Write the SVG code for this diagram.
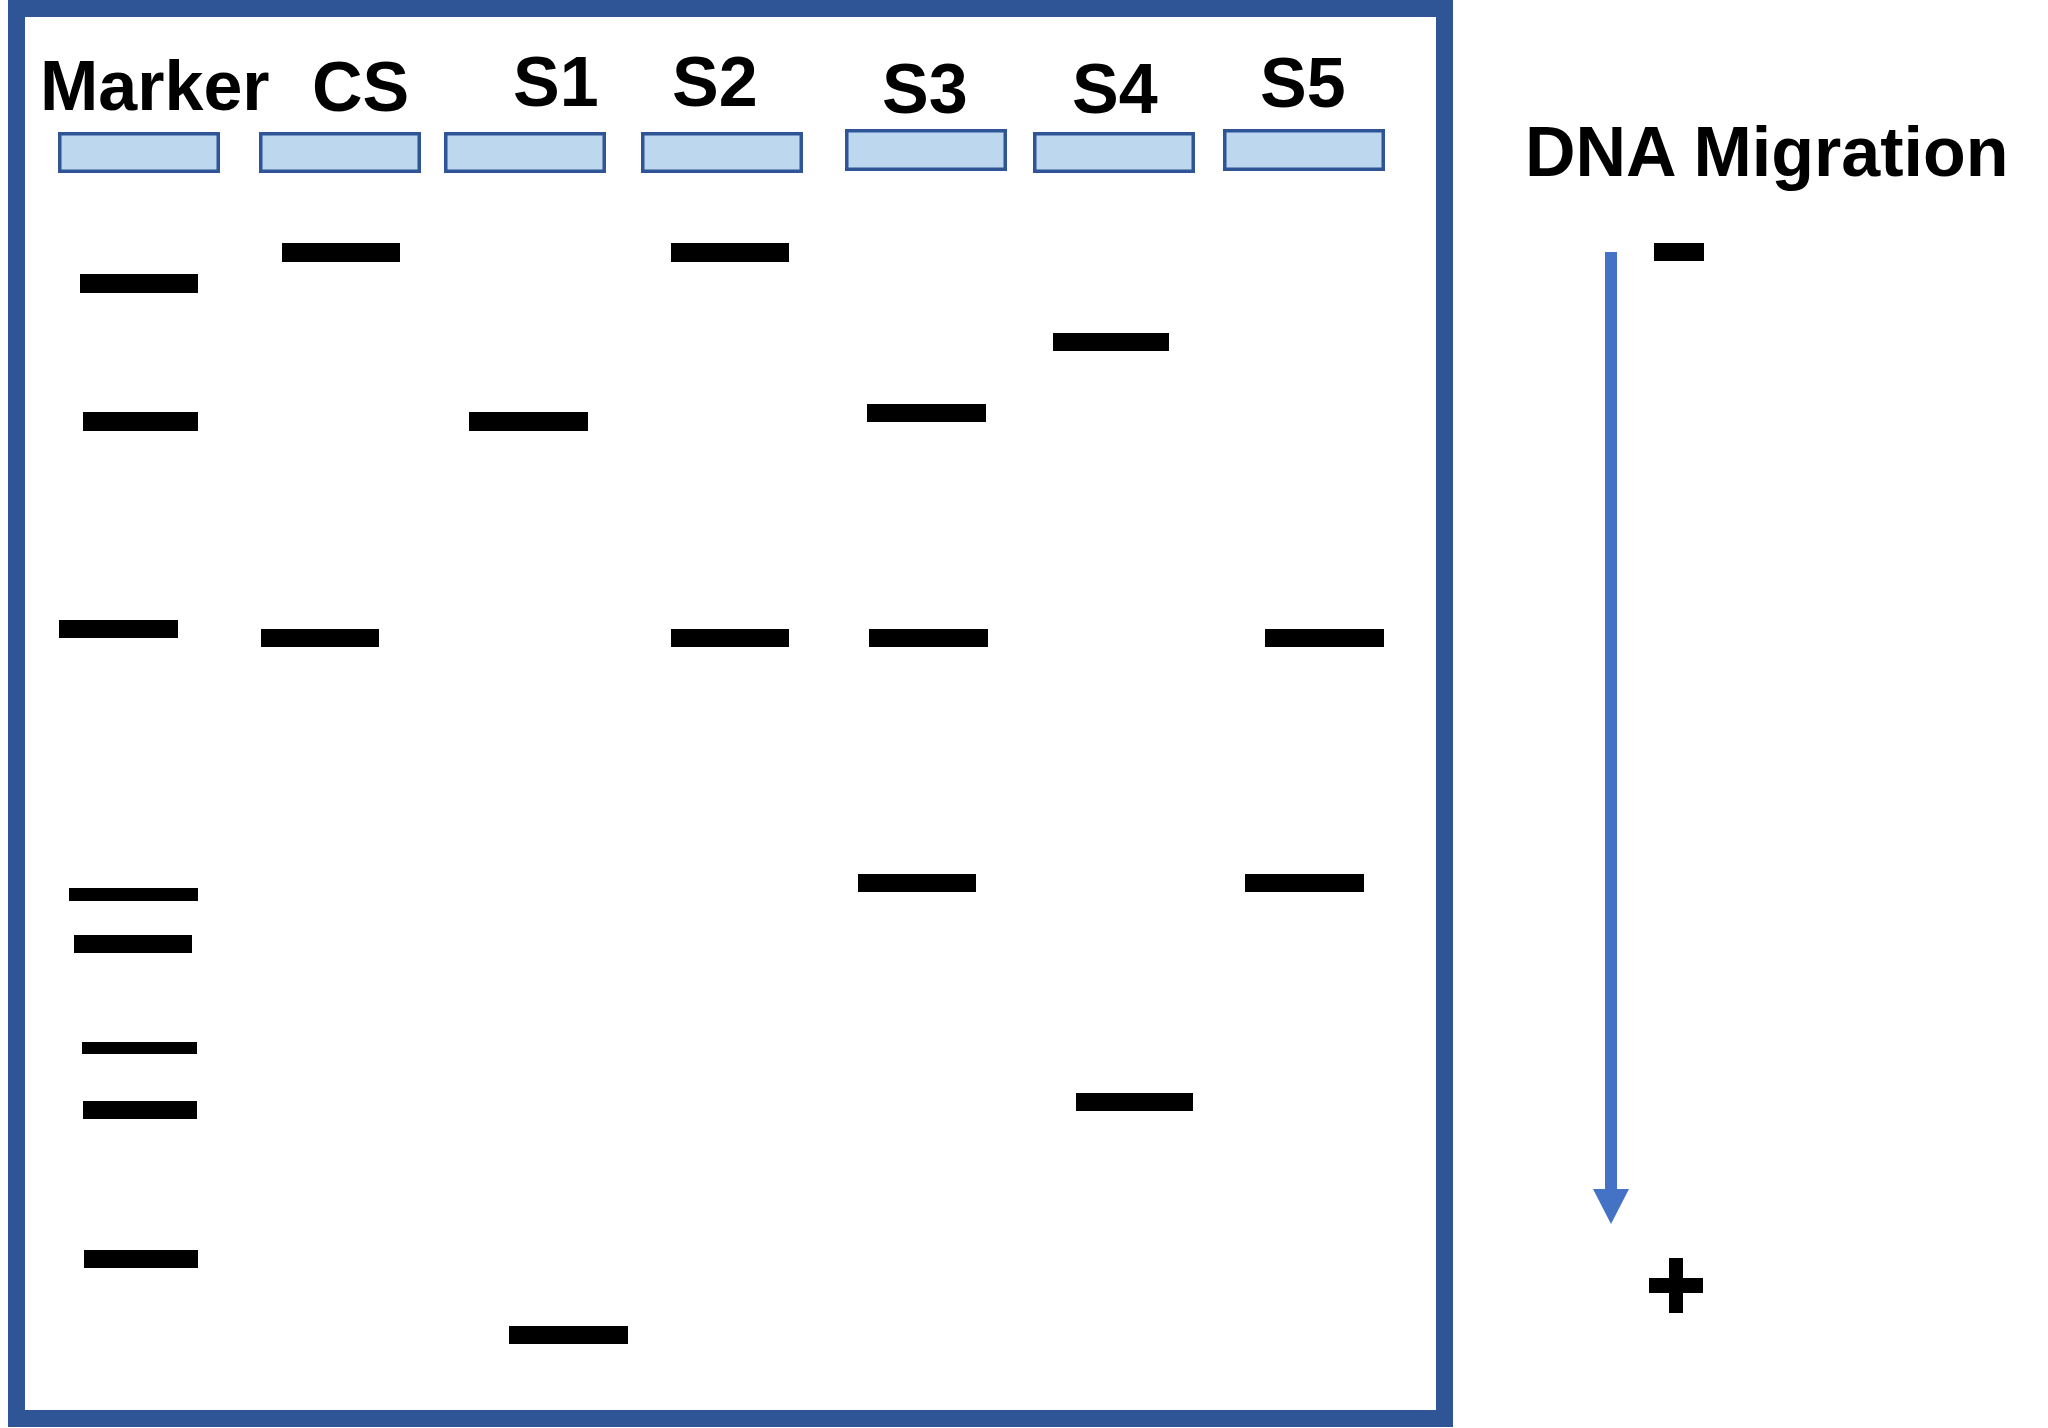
<svg xmlns="http://www.w3.org/2000/svg" width="2048" height="1428" viewBox="0 0 2048 1428">
  <style>
    .lbl { font-family: "Liberation Sans", Arial, sans-serif; font-weight: bold; font-size: 70px; fill: #000; }
    .well { fill: #BDD7EE; stroke: #2F5597; stroke-width: 3.5; }
    .band { fill: #000; }
  </style>
  <rect width="2048" height="1428" fill="#fff"/>
  <g id="gel">
    <rect x="16.5" y="8.5" width="1428" height="1410" fill="#fff" stroke="#2F5597" stroke-width="17"/>
  </g>
  <g id="lane-marker">
    <text class="lbl" x="40" y="110">Marker</text>
    <rect class="well" x="59.75" y="133.75" width="158.5" height="37.5"/>
    <rect class="band" x="80" y="274" width="118" height="19"/>
    <rect class="band" x="83" y="412" width="115" height="19"/>
    <rect class="band" x="59" y="620" width="119" height="18"/>
    <rect class="band" x="69" y="888" width="129" height="13"/>
    <rect class="band" x="74" y="935" width="118" height="18"/>
    <rect class="band" x="82" y="1042" width="115" height="12"/>
    <rect class="band" x="83" y="1101" width="114" height="18"/>
    <rect class="band" x="84" y="1250" width="114" height="18"/>
  </g>
  <g id="lane-cs">
    <text class="lbl" x="312" y="111">CS</text>
    <rect class="well" x="260.75" y="133.75" width="158.5" height="37.5"/>
    <rect class="band" x="282" y="243" width="118" height="19"/>
    <rect class="band" x="261" y="629" width="118" height="18"/>
  </g>
  <g id="lane-s1">
    <text class="lbl" x="513" y="106">S1</text>
    <rect class="well" x="445.75" y="133.75" width="158.5" height="37.5"/>
    <rect class="band" x="469" y="412" width="119" height="19"/>
    <rect class="band" x="509" y="1326" width="119" height="18"/>
  </g>
  <g id="lane-s2">
    <text class="lbl" x="672" y="106">S2</text>
    <rect class="well" x="642.75" y="133.75" width="158.5" height="37.5"/>
    <rect class="band" x="671" y="243" width="118" height="19"/>
    <rect class="band" x="671" y="629" width="118" height="18"/>
  </g>
  <g id="lane-s3">
    <text class="lbl" x="882" y="113">S3</text>
    <rect class="well" x="846.75" y="130.75" width="158.5" height="38.5"/>
    <rect class="band" x="867" y="404" width="119" height="18"/>
    <rect class="band" x="869" y="629" width="119" height="18"/>
    <rect class="band" x="858" y="874" width="118" height="18"/>
  </g>
  <g id="lane-s4">
    <text class="lbl" x="1072" y="113">S4</text>
    <rect class="well" x="1034.75" y="133.75" width="158.5" height="37.5"/>
    <rect class="band" x="1053" y="333" width="116" height="18"/>
    <rect class="band" x="1076" y="1093" width="117" height="18"/>
  </g>
  <g id="lane-s5">
    <text class="lbl" x="1260" y="107">S5</text>
    <rect class="well" x="1224.75" y="130.75" width="158.5" height="38.5"/>
    <rect class="band" x="1265" y="629" width="119" height="18"/>
    <rect class="band" x="1245" y="874" width="119" height="18"/>
  </g>
  <g id="migration-label">
    <text class="lbl" x="1525" y="176">DNA Migration</text>
  </g>
  <g id="cathode">
    <rect x="1654" y="243" width="50" height="18" fill="#000"/>
  </g>
  <g id="anode">
    <path d="M1669,1258 h14 v20 h20 v15 h-20 v20 h-14 v-20 h-20 v-15 h20 z" fill="#000"/>
  </g>
  <g id="connectors">
    <rect x="1605" y="252" width="12" height="937" fill="#4472C4"/>
    <polygon points="1593,1189 1629,1189 1611,1224" fill="#4472C4"/>
  </g>
</svg>
